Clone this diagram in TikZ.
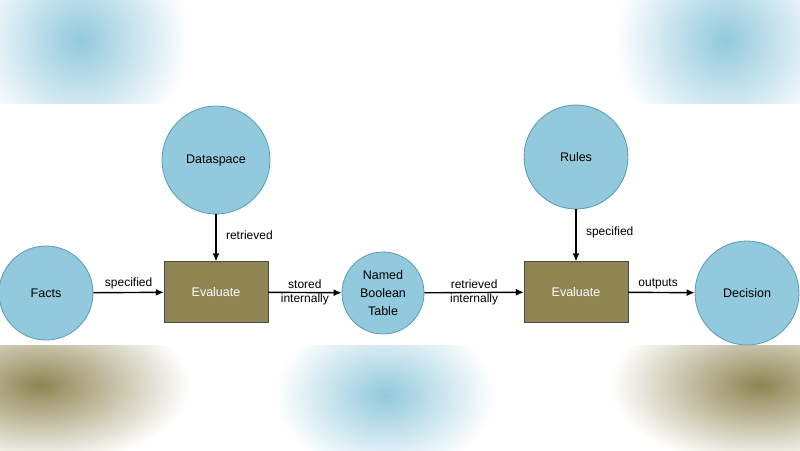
\documentclass[tikz,border=0pt]{standalone}
\usepackage{fontspec}
\setmainfont{Liberation Sans}
\usetikzlibrary{arrows.meta}
\definecolor{cfill}{HTML}{92C9DC}
\definecolor{cline}{HTML}{5B9BB5}
\definecolor{olive}{HTML}{8E8552}
\begin{document}
\begin{tikzpicture}[x=1pt,y=-1pt,
  circ/.style={circle,draw=cline,fill=cfill,line width=0.8pt,minimum size=#1,inner sep=0pt,font=\fontsize{12.5}{18}\selectfont,align=center},
  box/.style={rectangle,draw=black!70,fill=olive,minimum width=104pt,minimum height=61pt,text=white,font=\fontsize{12.5}{15}\selectfont},
  arr/.style={-{Latex[length=8pt,width=7pt]},line width=1.4pt},
  lab/.style={font=\fontsize{12}{14}\selectfont,align=center}]
\useasboundingbox (0,0) rectangle (800,450);
\fill[white] (0,0) rectangle (800,450);
\begin{scope}
\clip (0,0) rectangle (800,103);
\shade[inner color=cfill,outer color=white] (80,40) circle (110);
\shade[inner color=cfill,outer color=white] (725,40) circle (110);
\end{scope}
\begin{scope}
\clip (0,345) rectangle (800,450);
\shade[inner color=olive,outer color=white] (40,385) ellipse (150 and 80);
\shade[inner color=olive,outer color=white] (760,385) ellipse (150 and 80);
\shade[inner color=cfill,outer color=white] (385,395) ellipse (110 and 80);
\end{scope}
\node[circ=94pt] (facts) at (46,293) {Facts};
\node[circ=108pt] (data) at (216,160) {Dataspace};
\node[box] (ev1) at (216,292) {Evaluate};
\node[circ=82pt] (nbt) at (383,293) {Named\\Boolean\\Table};
\node[box] (ev2) at (576,292) {Evaluate};
\node[circ=104pt] (rules) at (576,157) {Rules};
\node[circ=104pt] (dec) at (747,293) {Decision};
\draw[arr] (facts) -- (ev1) node[lab,pos=0.5,above=-1pt]{specified};
\draw[arr] (data) -- (ev1) node[lab,pos=0.45,right=6pt]{retrieved};
\draw[arr] (ev1) -- (nbt) node[lab,midway]{stored\\internally};
\draw[arr] (nbt) -- (ev2) node[lab,midway]{retrieved\\internally};
\draw[arr] (rules) -- (ev2) node[lab,pos=0.45,right=6pt]{specified};
\draw[arr] (ev2) -- (dec) node[lab,pos=0.45,above=-1pt]{outputs};
\end{tikzpicture}
\end{document}
